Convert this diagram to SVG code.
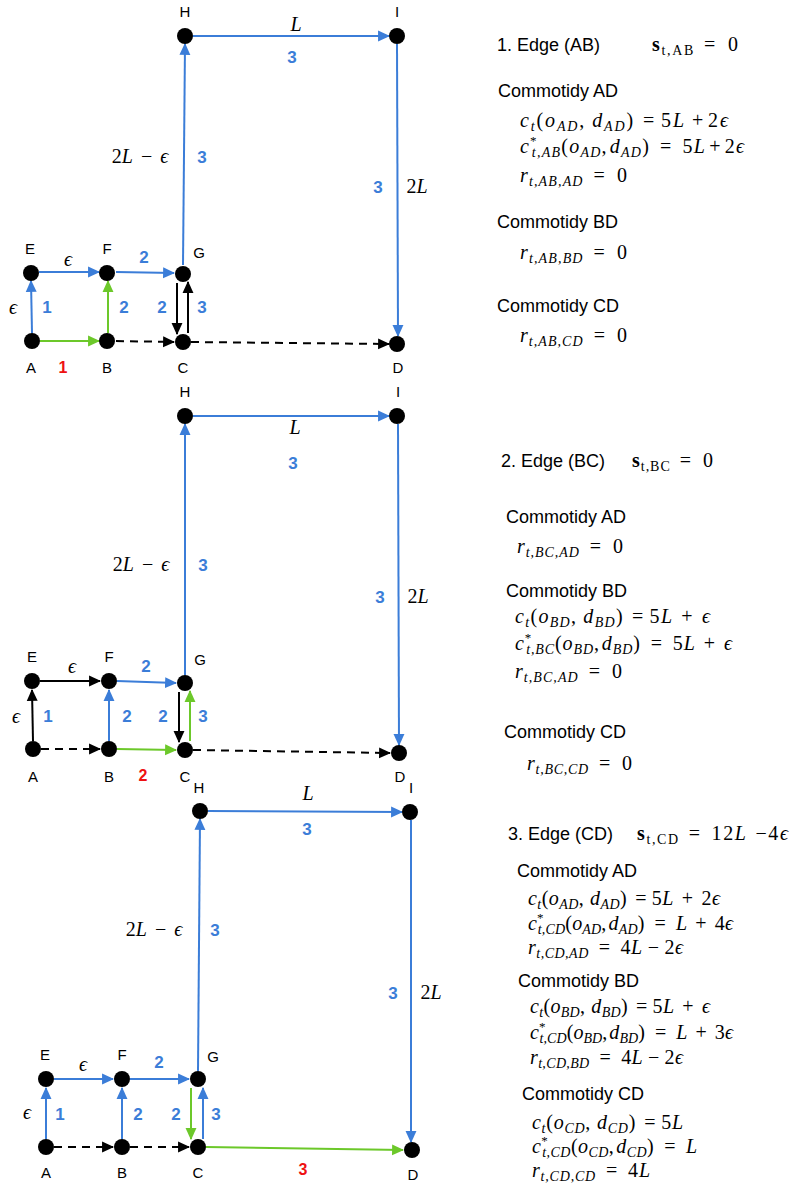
<svg xmlns="http://www.w3.org/2000/svg" width="790" height="1185" viewBox="0 0 790 1185">
  <style>
    .nd { fill: #000; }
    .lbl { font-family: "Liberation Sans", Arial, sans-serif; font-size: 15px; fill: #000; text-anchor: middle; }
    .w { font-family: "Liberation Sans", Arial, sans-serif; font-size: 17px; font-weight: bold; fill: #3b7dd8; text-anchor: middle; }
    .red { font-family: "Liberation Sans", Arial, sans-serif; font-size: 16px; font-weight: bold; fill: #ee1111; text-anchor: middle; }
    .eq { font-family: "Liberation Serif", "DejaVu Serif", serif; font-size: 20px; fill: #000; }
    .i { font-style: italic; }
    .s { font-size: 14px; }
    .sp { font-size: 13px; }
    .b { font-weight: bold; }
    .hd { font-family: "Liberation Sans", Arial, sans-serif; font-size: 18px; fill: #000; }
    .blue { stroke: #3b7dd8; stroke-width: 2; fill: none; marker-end: url(#ab); }
    .green { stroke: #6cc82a; stroke-width: 2; fill: none; marker-end: url(#ag); }
    .black { stroke: #000; stroke-width: 2; fill: none; marker-end: url(#ak); }
    .dash { stroke: #000; stroke-width: 2; fill: none; stroke-dasharray: 8 6; marker-end: url(#ak); }
  </style>
  <defs>
    <marker id="ab" markerUnits="userSpaceOnUse" markerWidth="12" markerHeight="12" refX="10" refY="5" orient="auto" viewBox="0 0 11 10">
      <path d="M0,0 L11,5 L0,10 z" fill="#3b7dd8"/>
    </marker>
    <marker id="ag" markerUnits="userSpaceOnUse" markerWidth="12" markerHeight="12" refX="10" refY="5" orient="auto" viewBox="0 0 11 10">
      <path d="M0,0 L11,5 L0,10 z" fill="#6cc82a"/>
    </marker>
    <marker id="ak" markerUnits="userSpaceOnUse" markerWidth="12" markerHeight="12" refX="10" refY="5" orient="auto" viewBox="0 0 11 10">
      <path d="M0,0 L11,5 L0,10 z" fill="#000"/>
    </marker>
  </defs>

  <!-- ===================== Step 1: edge AB ===================== -->
  <g id="edges-1">
    <line class="blue" x1="32" y1="333" x2="31" y2="281"/>
    <line class="blue" x1="39" y1="272" x2="99" y2="272"/>
    <line class="blue" x1="116" y1="272" x2="174" y2="273"/>
    <line class="green" x1="40" y1="341" x2="99" y2="341"/>
    <line class="green" x1="108" y1="333" x2="108" y2="281"/>
    <line class="dash" x1="116" y1="341" x2="174" y2="342"/>
    <line class="dash" x1="191" y1="342" x2="389" y2="344"/>
    <line class="black" x1="177" y1="283" x2="177" y2="334"/>
    <line class="black" x1="188" y1="333" x2="188" y2="282"/>
    <line class="blue" x1="183" y1="265" x2="185" y2="44"/>
    <line class="blue" x1="193" y1="36" x2="389" y2="36"/>
    <line class="blue" x1="397" y1="44" x2="398" y2="336"/>
  </g>
  <g id="labels-1">
    <text class="eq i" x="296" y="31" text-anchor="middle">L</text>
    <text class="w" x="292" y="63">3</text>
    <text class="eq" x="140" y="163" text-anchor="middle">2<tspan class="i">L</tspan><tspan dx="8">−</tspan><tspan class="i" dx="8">ϵ</tspan></text>
    <text class="w" x="202" y="163">3</text>
    <text class="w" x="378" y="193">3</text>
    <text class="eq" x="417" y="193" text-anchor="middle">2<tspan class="i">L</tspan></text>
    <text class="eq i" x="68" y="266" text-anchor="middle">ϵ</text>
    <text class="w" x="144" y="263">2</text>
    <text class="eq i" x="13" y="314" text-anchor="middle">ϵ</text>
    <text class="w" x="47" y="313">1</text>
    <text class="w" x="124" y="313">2</text>
    <text class="w" x="162" y="313">2</text>
    <text class="w" x="202" y="313">3</text>
    <text class="red" x="63" y="373">1</text>
  </g>
  <g id="n1-H"><circle class="nd" cx="185" cy="36" r="8"/><text class="lbl" x="185" y="17">H</text></g>
  <g id="n1-I"><circle class="nd" cx="397" cy="36" r="8"/><text class="lbl" x="397" y="17">I</text></g>
  <g id="n1-E"><circle class="nd" cx="31" cy="273" r="8"/><text class="lbl" x="30" y="254">E</text></g>
  <g id="n1-F"><circle class="nd" cx="107" cy="273" r="8"/><text class="lbl" x="107" y="254">F</text></g>
  <g id="n1-G"><circle class="nd" cx="183" cy="274" r="8"/><text class="lbl" x="199" y="258">G</text></g>
  <g id="n1-A"><circle class="nd" cx="32" cy="341" r="8"/><text class="lbl" x="31" y="373">A</text></g>
  <g id="n1-B"><circle class="nd" cx="107" cy="341" r="8"/><text class="lbl" x="107" y="373">B</text></g>
  <g id="n1-C"><circle class="nd" cx="183" cy="342" r="8"/><text class="lbl" x="183" y="373">C</text></g>
  <g id="n1-D"><circle class="nd" cx="397" cy="344" r="8"/><text class="lbl" x="398" y="373">D</text></g>

  <g id="text-1">
    <text class="hd" x="497" y="51">1. Edge (AB)</text>
    <text class="eq" x="652" y="51" textLength="86" lengthAdjust="spacing"><tspan class="b">s</tspan><tspan class="s" dy="4">t,AB</tspan><tspan dy="-4" dx="9">=</tspan><tspan dx="11">0</tspan></text>
    <text class="hd" x="498" y="97">Commotidy AD</text>
    <text class="eq" x="520" y="127" textLength="208" lengthAdjust="spacing"><tspan class="i">c</tspan><tspan class="s i" dy="4">t</tspan><tspan dy="-4">(</tspan><tspan class="i">o</tspan><tspan class="s i" dy="4">AD</tspan><tspan dy="-4">,</tspan><tspan class="i" dx="6">d</tspan><tspan class="s i" dy="4">AD</tspan><tspan dy="-4">)</tspan><tspan dx="8">=</tspan><tspan dx="5">5</tspan><tspan class="i">L</tspan><tspan dx="6">+</tspan><tspan dx="3">2</tspan><tspan class="i">ϵ</tspan></text>
    <text class="eq" x="520" y="153" textLength="224" lengthAdjust="spacing"><tspan class="i">c</tspan><tspan class="sp" dy="-8">*</tspan><tspan class="s i" dx="-6" dy="12">t,AB</tspan><tspan dy="-4">(</tspan><tspan class="i">o</tspan><tspan class="s i" dy="4">AD</tspan><tspan dy="-4">,</tspan><tspan class="i" dx="2">d</tspan><tspan class="s i" dy="4">AD</tspan><tspan dy="-4">)</tspan><tspan dx="10">=</tspan><tspan dx="10">5</tspan><tspan class="i">L</tspan><tspan dx="3">+</tspan><tspan dx="3">2</tspan><tspan class="i">ϵ</tspan></text>
    <text class="eq" x="520" y="182" textLength="107" lengthAdjust="spacing"><tspan class="i">r</tspan><tspan class="s i" dy="4">t,AB,AD</tspan><tspan dy="-4" dx="10">=</tspan><tspan dx="11">0</tspan></text>
    <text class="hd" x="497" y="228">Commotidy BD</text>
    <text class="eq" x="520" y="259" textLength="107" lengthAdjust="spacing"><tspan class="i">r</tspan><tspan class="s i" dy="4">t,AB,BD</tspan><tspan dy="-4" dx="10">=</tspan><tspan dx="11">0</tspan></text>
    <text class="hd" x="497" y="312">Commotidy CD</text>
    <text class="eq" x="520" y="342" textLength="107" lengthAdjust="spacing"><tspan class="i">r</tspan><tspan class="s i" dy="4">t,AB,CD</tspan><tspan dy="-4" dx="10">=</tspan><tspan dx="11">0</tspan></text>
  </g>

  <!-- ===================== Step 2: edge BC ===================== -->
  <g id="edges-2">
    <line class="black" x1="33" y1="741" x2="32" y2="690"/>
    <line class="black" x1="40" y1="681" x2="100" y2="681"/>
    <line class="blue" x1="117" y1="681" x2="176" y2="683"/>
    <line class="dash" x1="41" y1="749" x2="100" y2="749"/>
    <line class="blue" x1="109" y1="741" x2="109" y2="690"/>
    <line class="green" x1="117" y1="749" x2="176" y2="750"/>
    <line class="dash" x1="193" y1="750" x2="390" y2="753"/>
    <line class="black" x1="179" y1="692" x2="179" y2="742"/>
    <line class="green" x1="190" y1="741" x2="190" y2="691"/>
    <line class="blue" x1="185" y1="675" x2="185" y2="424"/>
    <line class="blue" x1="193" y1="416" x2="389" y2="416"/>
    <line class="blue" x1="398" y1="424" x2="399" y2="745"/>
  </g>
  <g id="labels-2">
    <text class="eq i" x="295" y="434" text-anchor="middle">L</text>
    <text class="w" x="293" y="469">3</text>
    <text class="eq" x="141" y="571" text-anchor="middle">2<tspan class="i">L</tspan><tspan dx="8">−</tspan><tspan class="i" dx="8">ϵ</tspan></text>
    <text class="w" x="203" y="571">3</text>
    <text class="w" x="380" y="603">3</text>
    <text class="eq" x="418" y="603" text-anchor="middle">2<tspan class="i">L</tspan></text>
    <text class="eq i" x="72" y="673" text-anchor="middle">ϵ</text>
    <text class="w" x="146" y="672">2</text>
    <text class="eq i" x="16" y="723" text-anchor="middle">ϵ</text>
    <text class="w" x="48" y="722">1</text>
    <text class="w" x="127" y="722">2</text>
    <text class="w" x="163" y="722">2</text>
    <text class="w" x="203" y="722">3</text>
    <text class="red" x="143" y="781">2</text>
  </g>
  <g id="n2-H"><circle class="nd" cx="185" cy="416" r="8"/><text class="lbl" x="185" y="397">H</text></g>
  <g id="n2-I"><circle class="nd" cx="397" cy="416" r="8"/><text class="lbl" x="398" y="397">I</text></g>
  <g id="n2-E"><circle class="nd" cx="32" cy="681" r="8"/><text class="lbl" x="32" y="662">E</text></g>
  <g id="n2-F"><circle class="nd" cx="109" cy="681" r="8"/><text class="lbl" x="109" y="662">F</text></g>
  <g id="n2-G"><circle class="nd" cx="185" cy="683" r="8"/><text class="lbl" x="200" y="665">G</text></g>
  <g id="n2-A"><circle class="nd" cx="33" cy="749" r="8"/><text class="lbl" x="33" y="782">A</text></g>
  <g id="n2-B"><circle class="nd" cx="109" cy="749" r="8"/><text class="lbl" x="109" y="782">B</text></g>
  <g id="n2-C"><circle class="nd" cx="185" cy="750" r="8"/><text class="lbl" x="185" y="782">C</text></g>
  <g id="n2-D"><circle class="nd" cx="399" cy="753" r="8"/><text class="lbl" x="400" y="782">D</text></g>

  <g id="text-2">
    <text class="hd" x="501" y="467">2. Edge (BC)</text>
    <text class="eq" x="632" y="467" textLength="81" lengthAdjust="spacing"><tspan class="b">s</tspan><tspan class="s" dy="4">t,BC</tspan><tspan dy="-4" dx="9">=</tspan><tspan dx="11">0</tspan></text>
    <text class="hd" x="506" y="523">Commotidy AD</text>
    <text class="eq" x="517" y="553" textLength="106" lengthAdjust="spacing"><tspan class="i">r</tspan><tspan class="s i" dy="4">t,BC,AD</tspan><tspan dy="-4" dx="10">=</tspan><tspan dx="11">0</tspan></text>
    <text class="hd" x="506" y="597">Commotidy BD</text>
    <text class="eq" x="515" y="623" textLength="195" lengthAdjust="spacing"><tspan class="i">c</tspan><tspan class="s i" dy="4">t</tspan><tspan dy="-4">(</tspan><tspan class="i">o</tspan><tspan class="s i" dy="4">BD</tspan><tspan dy="-4">,</tspan><tspan class="i" dx="6">d</tspan><tspan class="s i" dy="4">BD</tspan><tspan dy="-4">)</tspan><tspan dx="8">=</tspan><tspan dx="5">5</tspan><tspan class="i">L</tspan><tspan dx="8">+</tspan><tspan class="i" dx="8">ϵ</tspan></text>
    <text class="eq" x="515" y="650" textLength="217" lengthAdjust="spacing"><tspan class="i">c</tspan><tspan class="sp" dy="-8">*</tspan><tspan class="s i" dx="-6" dy="12">t,BC</tspan><tspan dy="-4">(</tspan><tspan class="i">o</tspan><tspan class="s i" dy="4">BD</tspan><tspan dy="-4">,</tspan><tspan class="i" dx="2">d</tspan><tspan class="s i" dy="4">BD</tspan><tspan dy="-4">)</tspan><tspan dx="10">=</tspan><tspan dx="10">5</tspan><tspan class="i">L</tspan><tspan dx="8">+</tspan><tspan class="i" dx="8">ϵ</tspan></text>
    <text class="eq" x="515" y="678" textLength="107" lengthAdjust="spacing"><tspan class="i">r</tspan><tspan class="s i" dy="4">t,BC,AD</tspan><tspan dy="-4" dx="10">=</tspan><tspan dx="11">0</tspan></text>
    <text class="hd" x="504" y="738">Commotidy CD</text>
    <text class="eq" x="527" y="770" textLength="105" lengthAdjust="spacing"><tspan class="i">r</tspan><tspan class="s i" dy="4">t,BC,CD</tspan><tspan dy="-4" dx="10">=</tspan><tspan dx="11">0</tspan></text>
  </g>

  <!-- ===================== Step 3: edge CD ===================== -->
  <g id="edges-3">
    <line class="blue" x1="46" y1="1139" x2="46" y2="1088"/>
    <line class="blue" x1="54" y1="1079" x2="113" y2="1079"/>
    <line class="blue" x1="130" y1="1079" x2="189" y2="1079"/>
    <line class="dash" x1="54" y1="1147" x2="113" y2="1147"/>
    <line class="blue" x1="122" y1="1139" x2="122" y2="1088"/>
    <line class="dash" x1="130" y1="1147" x2="189" y2="1147"/>
    <line class="green" x1="206" y1="1147" x2="403" y2="1150"/>
    <line class="green" x1="191" y1="1088" x2="191" y2="1139"/>
    <line class="blue" x1="203" y1="1139" x2="203" y2="1088"/>
    <line class="blue" x1="198" y1="1071" x2="200" y2="819"/>
    <line class="blue" x1="208" y1="811" x2="402" y2="812"/>
    <line class="blue" x1="411" y1="820" x2="411" y2="1142"/>
  </g>
  <g id="labels-3">
    <text class="eq i" x="308" y="800" text-anchor="middle">L</text>
    <text class="w" x="307" y="835">3</text>
    <text class="eq" x="154" y="936" text-anchor="middle">2<tspan class="i">L</tspan><tspan dx="8">−</tspan><tspan class="i" dx="8">ϵ</tspan></text>
    <text class="w" x="215" y="936">3</text>
    <text class="w" x="393" y="999">3</text>
    <text class="eq" x="431" y="999" text-anchor="middle">2<tspan class="i">L</tspan></text>
    <text class="eq i" x="83" y="1071" text-anchor="middle">ϵ</text>
    <text class="w" x="159" y="1068">2</text>
    <text class="eq i" x="27" y="1119" text-anchor="middle">ϵ</text>
    <text class="w" x="60" y="1120">1</text>
    <text class="w" x="138" y="1120">2</text>
    <text class="w" x="176" y="1120">2</text>
    <text class="w" x="216" y="1120">3</text>
    <text class="red" x="303" y="1175">3</text>
  </g>
  <g id="n3-H"><circle class="nd" cx="200" cy="811" r="8"/><text class="lbl" x="199" y="793">H</text></g>
  <g id="n3-I"><circle class="nd" cx="410" cy="812" r="8"/><text class="lbl" x="411" y="793">I</text></g>
  <g id="n3-E"><circle class="nd" cx="46" cy="1079" r="8"/><text class="lbl" x="45" y="1060">E</text></g>
  <g id="n3-F"><circle class="nd" cx="122" cy="1079" r="8"/><text class="lbl" x="122" y="1060">F</text></g>
  <g id="n3-G"><circle class="nd" cx="198" cy="1079" r="8"/><text class="lbl" x="213" y="1062">G</text></g>
  <g id="n3-A"><circle class="nd" cx="46" cy="1147" r="8"/><text class="lbl" x="46" y="1178">A</text></g>
  <g id="n3-B"><circle class="nd" cx="122" cy="1147" r="8"/><text class="lbl" x="122" y="1178">B</text></g>
  <g id="n3-C"><circle class="nd" cx="198" cy="1147" r="8"/><text class="lbl" x="198" y="1178">C</text></g>
  <g id="n3-D"><circle class="nd" cx="412" cy="1150" r="8"/><text class="lbl" x="413" y="1180">D</text></g>

  <g id="text-3">
    <text class="hd" x="508" y="840">3. Edge (CD)</text>
    <text class="eq" x="637" y="840" textLength="151" lengthAdjust="spacing"><tspan class="b">s</tspan><tspan class="s" dy="4">t,CD</tspan><tspan dy="-4" dx="9">=</tspan><tspan dx="10">12</tspan><tspan class="i">L</tspan><tspan dx="8">−4</tspan><tspan class="i">ϵ</tspan></text>
    <text class="hd" x="517" y="877">Commotidy AD</text>
    <text class="eq" x="528" y="905" textLength="192" lengthAdjust="spacing"><tspan class="i">c</tspan><tspan class="s i" dy="4">t</tspan><tspan dy="-4">(</tspan><tspan class="i">o</tspan><tspan class="s i" dy="4">AD</tspan><tspan dy="-4">,</tspan><tspan class="i" dx="6">d</tspan><tspan class="s i" dy="4">AD</tspan><tspan dy="-4">)</tspan><tspan dx="8">=</tspan><tspan dx="5">5</tspan><tspan class="i">L</tspan><tspan dx="8">+</tspan><tspan dx="8">2</tspan><tspan class="i">ϵ</tspan></text>
    <text class="eq" x="528" y="930" textLength="205" lengthAdjust="spacing"><tspan class="i">c</tspan><tspan class="sp" dy="-8">*</tspan><tspan class="s i" dx="-6" dy="12">t,CD</tspan><tspan dy="-4">(</tspan><tspan class="i">o</tspan><tspan class="s i" dy="4">AD</tspan><tspan dy="-4">,</tspan><tspan class="i" dx="2">d</tspan><tspan class="s i" dy="4">AD</tspan><tspan dy="-4">)</tspan><tspan dx="10">=</tspan><tspan class="i" dx="10">L</tspan><tspan dx="8">+</tspan><tspan dx="8">4</tspan><tspan class="i">ϵ</tspan></text>
    <text class="eq" x="528" y="954" textLength="155" lengthAdjust="spacing"><tspan class="i">r</tspan><tspan class="s i" dy="4">t,CD,AD</tspan><tspan dy="-4" dx="10">=</tspan><tspan dx="10">4</tspan><tspan class="i">L</tspan><tspan dx="5">−</tspan><tspan dx="5">2</tspan><tspan class="i">ϵ</tspan></text>
    <text class="hd" x="518" y="987">Commotidy BD</text>
    <text class="eq" x="530" y="1013" textLength="180" lengthAdjust="spacing"><tspan class="i">c</tspan><tspan class="s i" dy="4">t</tspan><tspan dy="-4">(</tspan><tspan class="i">o</tspan><tspan class="s i" dy="4">BD</tspan><tspan dy="-4">,</tspan><tspan class="i" dx="6">d</tspan><tspan class="s i" dy="4">BD</tspan><tspan dy="-4">)</tspan><tspan dx="8">=</tspan><tspan dx="5">5</tspan><tspan class="i">L</tspan><tspan dx="8">+</tspan><tspan class="i" dx="8">ϵ</tspan></text>
    <text class="eq" x="530" y="1039" textLength="203" lengthAdjust="spacing"><tspan class="i">c</tspan><tspan class="sp" dy="-8">*</tspan><tspan class="s i" dx="-6" dy="12">t,CD</tspan><tspan dy="-4">(</tspan><tspan class="i">o</tspan><tspan class="s i" dy="4">BD</tspan><tspan dy="-4">,</tspan><tspan class="i" dx="2">d</tspan><tspan class="s i" dy="4">BD</tspan><tspan dy="-4">)</tspan><tspan dx="10">=</tspan><tspan class="i" dx="10">L</tspan><tspan dx="8">+</tspan><tspan dx="8">3</tspan><tspan class="i">ϵ</tspan></text>
    <text class="eq" x="530" y="1064" textLength="153" lengthAdjust="spacing"><tspan class="i">r</tspan><tspan class="s i" dy="4">t,CD,BD</tspan><tspan dy="-4" dx="10">=</tspan><tspan dx="10">4</tspan><tspan class="i">L</tspan><tspan dx="5">−</tspan><tspan dx="5">2</tspan><tspan class="i">ϵ</tspan></text>
    <text class="hd" x="522" y="1100">Commotidy CD</text>
    <text class="eq" x="532" y="1129" textLength="151" lengthAdjust="spacing"><tspan class="i">c</tspan><tspan class="s i" dy="4">t</tspan><tspan dy="-4">(</tspan><tspan class="i">o</tspan><tspan class="s i" dy="4">CD</tspan><tspan dy="-4">,</tspan><tspan class="i" dx="6">d</tspan><tspan class="s i" dy="4">CD</tspan><tspan dy="-4">)</tspan><tspan dx="8">=</tspan><tspan dx="5">5</tspan><tspan class="i">L</tspan></text>
    <text class="eq" x="532" y="1153" textLength="165" lengthAdjust="spacing"><tspan class="i">c</tspan><tspan class="sp" dy="-8">*</tspan><tspan class="s i" dx="-6" dy="12">t,CD</tspan><tspan dy="-4">(</tspan><tspan class="i">o</tspan><tspan class="s i" dy="4">CD</tspan><tspan dy="-4">,</tspan><tspan class="i" dx="2">d</tspan><tspan class="s i" dy="4">CD</tspan><tspan dy="-4">)</tspan><tspan dx="10">=</tspan><tspan class="i" dx="10">L</tspan></text>
    <text class="eq" x="532" y="1177" textLength="118" lengthAdjust="spacing"><tspan class="i">r</tspan><tspan class="s i" dy="4">t,CD,CD</tspan><tspan dy="-4" dx="10">=</tspan><tspan dx="10">4</tspan><tspan class="i">L</tspan></text>
  </g>
</svg>
